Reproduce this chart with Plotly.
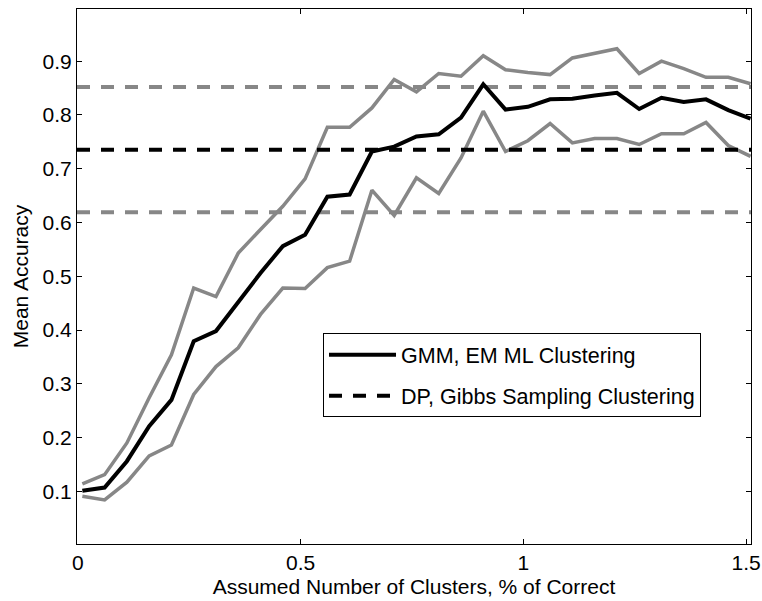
import plotly.graph_objects as go

# x positions: assumed number of clusters as a fraction of the correct number
x_vals = [0.01 + 0.05 * k for k in range(31)]

gmm_mean = [0.101, 0.107, 0.156, 0.221, 0.270, 0.379, 0.398, 0.453, 0.506, 0.556,
            0.577, 0.648, 0.652, 0.732, 0.741, 0.760, 0.764, 0.795, 0.857, 0.810,
            0.815, 0.829, 0.830, 0.836, 0.841, 0.811, 0.832, 0.824, 0.829, 0.809,
            0.793]
gmm_upper = [0.114, 0.131, 0.190, 0.274, 0.354, 0.478, 0.462, 0.543, 0.587, 0.630,
             0.681, 0.777, 0.777, 0.813, 0.866, 0.843, 0.877, 0.872, 0.910, 0.884,
             0.879, 0.875, 0.906, 0.914, 0.923, 0.877, 0.900, 0.886, 0.870, 0.870,
             0.858]
gmm_lower = [0.091, 0.084, 0.117, 0.166, 0.186, 0.280, 0.332, 0.367, 0.429, 0.478,
             0.477, 0.516, 0.528, 0.660, 0.613, 0.683, 0.654, 0.720, 0.807, 0.732,
             0.752, 0.784, 0.748, 0.756, 0.756, 0.745, 0.765, 0.765, 0.786, 0.743,
             0.723]

dp_mean = 0.735
dp_upper = 0.852
dp_lower = 0.619

x_range = [-0.002, 1.511]
y_range = [0.002, 0.997]
x_ticks = [0, 0.5, 1, 1.5]
x_tick_text = ["0", "0.5", "1", "1.5"]
y_ticks = [0.1, 0.2, 0.3, 0.4, 0.5, 0.6, 0.7, 0.8, 0.9]
y_tick_text = ["0.1", "0.2", "0.3", "0.4", "0.5", "0.6", "0.7", "0.8", "0.9"]

labels = ["GMM, EM ML Clustering", "DP, Gibbs Sampling Clustering"]
x_title = "Assumed Number of Clusters, % of Correct"
y_title = "Mean Accuracy"

GRAY = "#878787"
DASH = "13px,11px"
FONT = "Liberation Sans, Arial, Helvetica, sans-serif"
FS = 21

fig = go.Figure()

hx = [x_range[0], x_range[1]]
for v in (dp_upper, dp_lower):
    fig.add_trace(go.Scatter(x=hx, y=[v, v], mode="lines",
                             line=dict(color=GRAY, width=4, dash=DASH),
                             showlegend=False, hoverinfo="skip"))
for ys in (gmm_upper, gmm_lower):
    fig.add_trace(go.Scatter(x=x_vals, y=ys, mode="lines",
                             line=dict(color=GRAY, width=3.5),
                             showlegend=False, hoverinfo="skip"))

fig.add_trace(go.Scatter(x=hx, y=[dp_mean, dp_mean], mode="lines",
                         line=dict(color="black", width=4, dash=DASH),
                         name=labels[1], legendgroup="b", legendrank=2))
fig.add_trace(go.Scatter(x=x_vals, y=gmm_mean, mode="lines",
                         line=dict(color="black", width=4),
                         name=labels[0], legendgroup="a", legendrank=1))

axis_common = dict(showline=True, linecolor="black", linewidth=1, mirror="allticks",
                   ticks="inside", ticklen=5, tickcolor="black", showgrid=False,
                   zeroline=False, automargin=False,
                   tickfont=dict(size=FS, color="black", family=FONT))

fig.update_xaxes(range=x_range, tickvals=x_ticks, ticktext=x_tick_text,
                 title=dict(text=x_title, font=dict(size=FS, color="black", family=FONT),
                            standoff=6),
                 **axis_common)
fig.update_yaxes(range=y_range, tickvals=y_ticks, ticktext=y_tick_text,
                 title=dict(text=y_title, font=dict(size=FS, color="black", family=FONT),
                            standoff=8),
                 **axis_common)

fig.update_layout(
    width=762, height=601,
    margin=dict(l=77, r=11, t=9, b=57),
    paper_bgcolor="white", plot_bgcolor="white",
    font=dict(family=FONT, size=FS, color="black"),
    legend=dict(x=0.365, y=0.394, xanchor="left", yanchor="top",
                bgcolor="white", bordercolor="black", borderwidth=1,
                font=dict(size=21.5, color="black", family=FONT),
                itemwidth=67, tracegroupgap=10, traceorder="grouped"),
    showlegend=True,
)

fig.write_html("out.html")
